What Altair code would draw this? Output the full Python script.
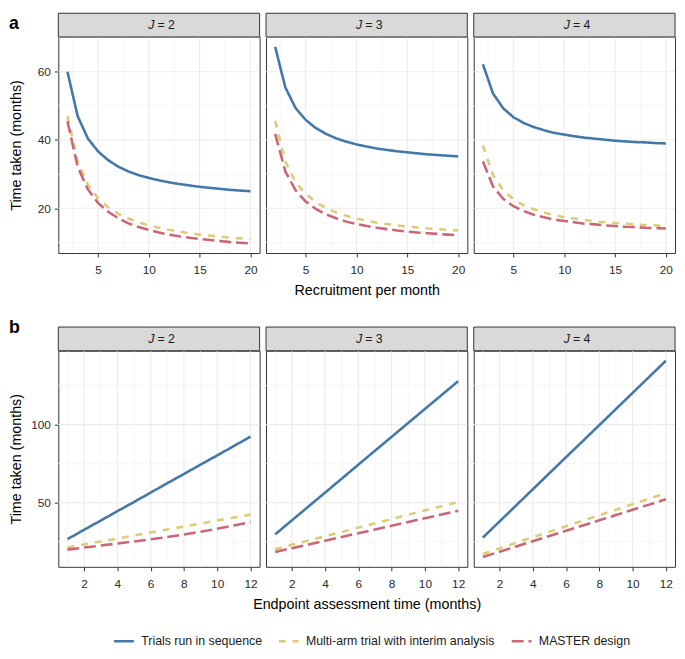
import altair as alt
import pandas as pd

# ---------------- data ----------------
series_names = ["Trials run in sequence", "Multi-arm trial with interim analysis", "MASTER design"]
J_values = [2, 3, 4]
row_letters = ["a", "b"]

recruit = list(range(2, 21))
rec_seq = {
    2: [60.0, 47.0, 40.5, 36.7, 34.1, 32.2, 30.8, 29.7, 28.9, 28.2, 27.6, 27.1, 26.7, 26.3, 26.0, 25.7, 25.4, 25.2, 25.0],
    3: [67.3, 55.4, 49.4, 45.9, 43.5, 41.8, 40.5, 39.5, 38.7, 38.1, 37.5, 37.1, 36.7, 36.4, 36.1, 35.8, 35.6, 35.4, 35.2],
    4: [62.2, 53.6, 49.3, 46.7, 45.0, 43.8, 42.9, 42.1, 41.6, 41.1, 40.7, 40.4, 40.1, 39.8, 39.6, 39.4, 39.3, 39.1, 39.0],
}
rec_multi = {
    2: [47.0, 33.7, 27.0, 23.0, 20.3, 18.4, 17.0, 15.9, 15.0, 14.3, 13.7, 13.2, 12.7, 12.3, 12.0, 11.7, 11.4, 11.2, 11.0],
    3: [45.6, 33.7, 27.7, 24.2, 21.8, 20.1, 18.8, 17.8, 17.0, 16.4, 15.8, 15.4, 15.0, 14.7, 14.4, 14.1, 13.9, 13.7, 13.5],
    4: [38.4, 29.7, 25.3, 22.7, 20.9, 19.7, 18.8, 18.0, 17.4, 17.0, 16.6, 16.2, 15.9, 15.7, 15.5, 15.3, 15.1, 15.0, 14.8],
}
rec_master = {
    2: [45.5, 32.2, 25.6, 21.6, 19.0, 17.1, 15.6, 14.5, 13.7, 12.9, 12.3, 11.8, 11.4, 11.0, 10.7, 10.4, 10.1, 9.9, 9.7],
    3: [41.8, 30.8, 25.3, 22.0, 19.8, 18.2, 17.1, 16.1, 15.4, 14.8, 14.3, 13.9, 13.5, 13.2, 12.9, 12.7, 12.5, 12.3, 12.1],
    4: [33.7, 26.4, 22.8, 20.6, 19.2, 18.1, 17.4, 16.7, 16.3, 15.9, 15.5, 15.3, 15.0, 14.8, 14.6, 14.5, 14.3, 14.2, 14.1],
}

endpoint = list(range(1, 13))
end_seq = {
    2: [26.7, 32.7, 38.6, 44.6, 50.5, 56.5, 62.5, 68.4, 74.4, 80.3, 86.3, 92.3],
    3: [29.8, 38.7, 47.6, 56.5, 65.4, 74.4, 83.3, 92.2, 101.1, 110.0, 118.9, 127.8],
    4: [27.7, 38.0, 48.3, 58.6, 68.9, 79.2, 89.4, 99.7, 110.0, 120.3, 130.6, 140.9],
}
end_multi = {
    2: [21.4, 23.3, 25.2, 27.1, 29.0, 30.9, 32.9, 34.8, 36.7, 38.6, 40.5, 42.4],
    3: [20.3, 23.1, 25.8, 28.6, 31.3, 34.1, 36.8, 39.6, 42.3, 45.1, 47.8, 50.6],
    4: [17.3, 20.8, 24.4, 27.9, 31.4, 35.0, 38.5, 42.0, 45.5, 49.1, 52.6, 56.1],
}
end_master = {
    2: [20.0, 21.3, 22.6, 23.9, 25.2, 26.6, 28.1, 29.7, 31.4, 33.3, 35.4, 37.7],
    3: [18.5, 20.9, 23.3, 25.7, 28.1, 30.5, 32.9, 35.3, 37.7, 40.1, 42.5, 44.9],
    4: [15.3, 18.7, 22.0, 25.4, 28.7, 32.1, 35.4, 38.8, 42.1, 45.5, 48.8, 52.2],
}

# axis ticks / grid positions
rec_x_major = [5, 10, 15, 20]
rec_x_minor = [2.5, 7.5, 12.5, 17.5]
rec_y_major = [20, 40, 60]
rec_y_minor = [10, 30, 50, 70]
rec_x_domain = [1.1, 20.9]
rec_y_domain = [6.9, 70.2]

end_x_major = [2, 4, 6, 8, 10, 12]
end_x_minor = [1, 3, 5, 7, 9, 11]
end_y_major = [50, 100]
end_y_minor = [25, 75, 125]
end_x_domain = [0.45, 12.55]
end_y_domain = [9.0, 147.3]

# ---------------- style ----------------
FONT = "Liberation Sans"
W, H = 204, 219
STRIP = 24
colors = ["#4477AA", "#DDCC77", "#CC6677"]
dashes = [[1, 0], [7, 7], [12, 5]]
letter_y = [-8, -18]

color_scale = alt.Scale(domain=series_names, range=colors)
dash_scale = alt.Scale(domain=series_names, range=dashes)
legend = alt.Legend(
    title=None, orient="none", direction="horizontal", legendX=55, legendY=601,
    symbolType="stroke", symbolSize=400, symbolStrokeWidth=2.6, labelFontSize=12.5,
    labelFont=FONT, labelColor="#1A1A1A", labelOffset=6, columnPadding=11, padding=0,
    labelLimit=400,
)


def make_df(xs, seq, multi, master):
    rows = []
    for name, vals in zip(series_names, [seq, multi, master]):
        for x, y in zip(xs, vals):
            rows.append({"x": x, "y": y, "series": name})
    return pd.DataFrame(rows)


def panel(df, j, xdom, ydom, xmaj, xmin, ymaj, ymin, col, xtitle, ylabel, letter, ly):
    xs = alt.Scale(domain=xdom, nice=False, zero=False)
    ys = alt.Scale(domain=ydom, nice=False, zero=False)
    if xtitle:
        xax = alt.Axis(values=xmaj, title=xtitle)
    else:
        xax = alt.Axis(values=xmaj, title=None)
    if col == 0:
        yax = alt.Axis(values=ymaj, title=ylabel, minExtent=29, maxExtent=29, titlePadding=6)
    else:
        yax = None

    gmx = alt.Chart(pd.DataFrame({"v": xmin})).mark_rule(color="#F3F3F3", strokeWidth=0.8).encode(
        x=alt.X("v:Q", scale=xs, axis=xax))
    gmy = alt.Chart(pd.DataFrame({"v": ymin})).mark_rule(color="#F3F3F3", strokeWidth=0.8).encode(
        y=alt.Y("v:Q", scale=ys, axis=yax))
    gMx = alt.Chart(pd.DataFrame({"v": xmaj})).mark_rule(color="#EBEBEB", strokeWidth=1.1).encode(
        x=alt.X("v:Q", scale=xs, axis=xax))
    gMy = alt.Chart(pd.DataFrame({"v": ymaj})).mark_rule(color="#EBEBEB", strokeWidth=1.1).encode(
        y=alt.Y("v:Q", scale=ys, axis=yax))

    lines = alt.Chart(df).mark_line(strokeWidth=2.6).encode(
        x=alt.X("x:Q", scale=xs, axis=xax),
        y=alt.Y("y:Q", scale=ys, axis=yax),
        color=alt.Color("series:N", scale=color_scale, legend=legend),
        strokeDash=alt.StrokeDash("series:N", scale=dash_scale, legend=legend),
        detail="series:N",
    )

    sdf = pd.DataFrame({"eq": [f"= {j}"], "letter": [letter]})
    strip = alt.Chart(sdf).mark_rect(fill="#D9D9D9", stroke="#333333", strokeWidth=1).encode(
        x=alt.value(0), x2=alt.value(W), y=alt.value(-STRIP), y2=alt.value(0))
    jtxt = alt.Chart(sdf).mark_text(text="J", fontStyle="italic", align="right", baseline="middle",
                                    fontSize=12.5, font=FONT, color="#1A1A1A").encode(
        x=alt.value(W / 2 - 4.5), y=alt.value(-STRIP / 2))
    eqtxt = alt.Chart(sdf).mark_text(align="left", baseline="middle", fontSize=12.5, font=FONT,
                                     color="#1A1A1A").encode(
        x=alt.value(W / 2 - 1.5), y=alt.value(-STRIP / 2), text="eq:N")
    layers = [gmx, gmy, gMx, gMy, lines, strip, jtxt, eqtxt]
    if col == 0:
        ltxt = alt.Chart(sdf).mark_text(align="left", baseline="alphabetic", fontSize=18, fontWeight="bold",
                                        font=FONT, color="#000000").encode(
            x=alt.value(-50), y=alt.value(ly), text="letter:N")
        layers.append(ltxt)
    return alt.layer(*layers).properties(width=W, height=H)


panels = []
for r, (xvals, seqd, multid, masterd, xdom, ydom, xM, xm, yM, ym, xt) in enumerate([
    (recruit, rec_seq, rec_multi, rec_master, rec_x_domain, rec_y_domain, rec_x_major, rec_x_minor,
     rec_y_major, rec_y_minor, "Recruitment per month"),
    (endpoint, end_seq, end_multi, end_master, end_x_domain, end_y_domain, end_x_major, end_x_minor,
     end_y_major, end_y_minor, "Endpoint assessment time (months)"),
]):
    for i, j in enumerate(J_values):
        df = make_df(xvals, seqd[j], multid[j], masterd[j])
        panels.append(panel(df, j, xdom, ydom, xM, xm, yM, ym, i, xt if i == 1 else "",
                            "Time taken (months)", row_letters[r], letter_y[r]))

chart = alt.concat(*panels, columns=3, spacing={"row": 99, "column": 6.5}, bounds="flush").properties(
    padding=0
).configure(font=FONT).configure_view(
    stroke="#333333", strokeWidth=1
).configure_axis(
    grid=False, domain=False, tickColor="#333333", tickSize=4, tickWidth=1,
    labelFont=FONT, labelFontSize=12, labelColor="#2B2B2B", labelPadding=5,
    titleFont=FONT, titleFontSize=14.5, titleFontWeight="normal", titleColor="#000000",
    titlePadding=8,
).configure_axisX(labelPadding=8).configure_axisY(labelPadding=4)

chart.save("out.html", embed_options={"renderer": "svg", "actions": False})
